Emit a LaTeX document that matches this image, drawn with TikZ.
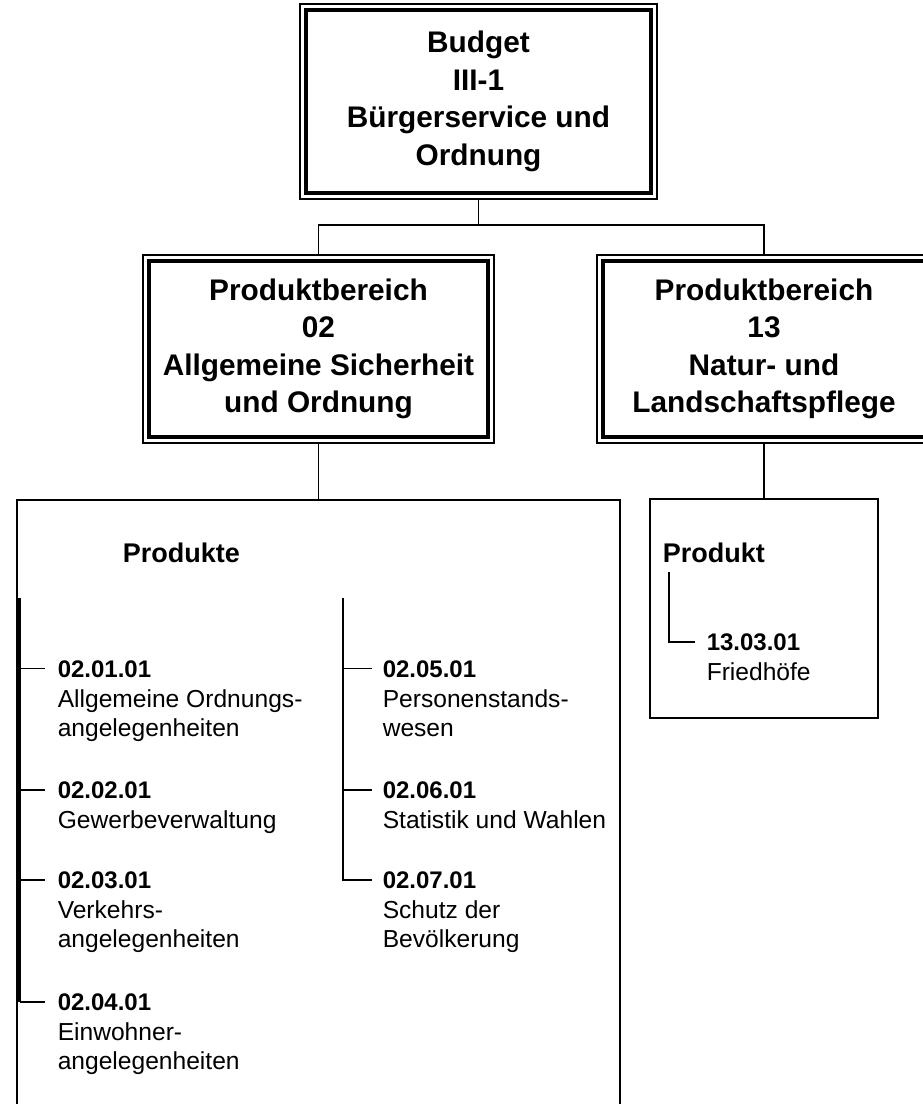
\documentclass[tikz,border=0pt]{standalone}
\usepackage{fontspec}
\setmainfont{Liberation Sans}[Ligatures=NoCommon]
\usetikzlibrary{positioning,calc}
\newcommand\headfont{\fontsize{29.8}{37.5}\selectfont\bfseries}
\newcommand\prodfont{\fontsize{27}{30}\selectfont\bfseries}
\newcommand\itemfont{\fontsize{24}{29}\selectfont}
\newcommand\descfont{\fontsize{24.6}{29}\selectfont}
\begin{document}
\begin{tikzpicture}[
    x=1pt,y=-1pt,line width=1.5pt,
    frame/.style={draw,outer sep=0pt,align=center,font=\headfont,
      path picture={\draw[line width=4pt]
        ([shift={(6,6)}]path picture bounding box.north west) rectangle
        ([shift={(-6,-6)}]path picture bounding box.south east);}},
    box/.style={draw,outer sep=0pt},
    head/.style={anchor=base west,inner sep=0pt,font=\prodfont},
    code/.style={anchor=base west,inner sep=0pt,font=\itemfont\bfseries},
    desc/.style={anchor=north west,inner sep=0pt,align=left,font=\descfont}
  ]
  \useasboundingbox (0,0) rectangle (923,1104);
  \clip (0,0) rectangle (923,1104);
  % boxes
  \node[frame,minimum width=357pt,minimum height=195pt] (budget) at (478.5,101.5)
    {Budget\\III-1\\Bürgerservice und\\Ordnung};
  \node[frame,minimum width=351pt,minimum height=188pt] (pb02) at (318.5,349)
    {Produktbereich\\02\\Allgemeine Sicherheit\\und Ordnung};
  \node[frame,minimum width=334pt,minimum height=188pt] (pb13) at (764,349)
    {Produktbereich\\13\\Natur- und\\Landschaftspflege};
  \node[box,minimum width=603pt,minimum height=620pt] (prod02) at (318.5,810) {};
  \node[box,minimum width=228pt,minimum height=219pt] (prod13) at (764,608.5) {};
  % connectors
  \coordinate (split) at (478.5,225);
  \draw (budget.south) -- (split);
  \draw (pb02.north) |- (split) -| (pb13.north);
  \draw (pb02.south) -- (prod02.north);
  \draw (pb13.south) -- (prod13.north);
  % products 02
  \node[head] (hd02) at (122,562) {Produkte};
  \coordinate (l02) at (19.5,598);
  \coordinate (r02) at (343,598);
  \node[code] (c0201) at (57,677) {02.01.01};
  \node[desc] (d0201) at ([shift={(0,12)}]c0201.base west) {Allgemeine Ordnungs-\\angelegenheiten};
  \node[code] (c0202) at (57,798) {02.02.01};
  \node[desc] (d0202) at ([shift={(0,12)}]c0202.base west) {Gewerbeverwaltung};
  \node[code] (c0203) at (57,888) {02.03.01};
  \node[desc] (d0203) at ([shift={(0,12)}]c0203.base west) {Verkehrs-\\angelegenheiten};
  \node[code] (c0204) at (57,1010) {02.04.01};
  \node[desc] (d0204) at ([shift={(0,12)}]c0204.base west) {Einwohner-\\angelegenheiten};
  \node[code] (c0205) at (382,677) {02.05.01};
  \node[desc] (d0205) at ([shift={(0,12)}]c0205.base west) {Personenstands-\\wesen};
  \node[code] (c0206) at (382,798) {02.06.01};
  \node[desc] (d0206) at ([shift={(0,12)}]c0206.base west) {Statistik und Wahlen};
  \node[code] (c0207) at (382,888) {02.07.01};
  \node[desc] (d0207) at ([shift={(0,12)}]c0207.base west) {Schutz der\\Bevölkerung};
  \draw[line width=2.5pt] (l02) -- (l02 |- c0204.west);
  \foreach \c in {c0201,c0202,c0203,c0204}
    \draw (l02 |- \c.west) -- ([xshift=-12pt]\c.west);
  \draw (r02) -- (r02 |- c0207.west) -- ([xshift=-10pt]c0207.west);
  \foreach \c in {c0205,c0206}
    \draw (r02 |- \c.west) -- ([xshift=-10pt]\c.west);
  % product 13
  \node[head] (hd13) at (662,562) {Produkt};
  \coordinate (t13) at (669,572);
  \node[code] (c1303) at (706,650) {13.03.01};
  \node[desc] (d1303) at ([shift={(0,12)}]c1303.base west) {Friedhöfe};
  \draw (t13) -- (t13 |- c1303.west) -- ([xshift=-11pt]c1303.west);
\end{tikzpicture}
\end{document}
